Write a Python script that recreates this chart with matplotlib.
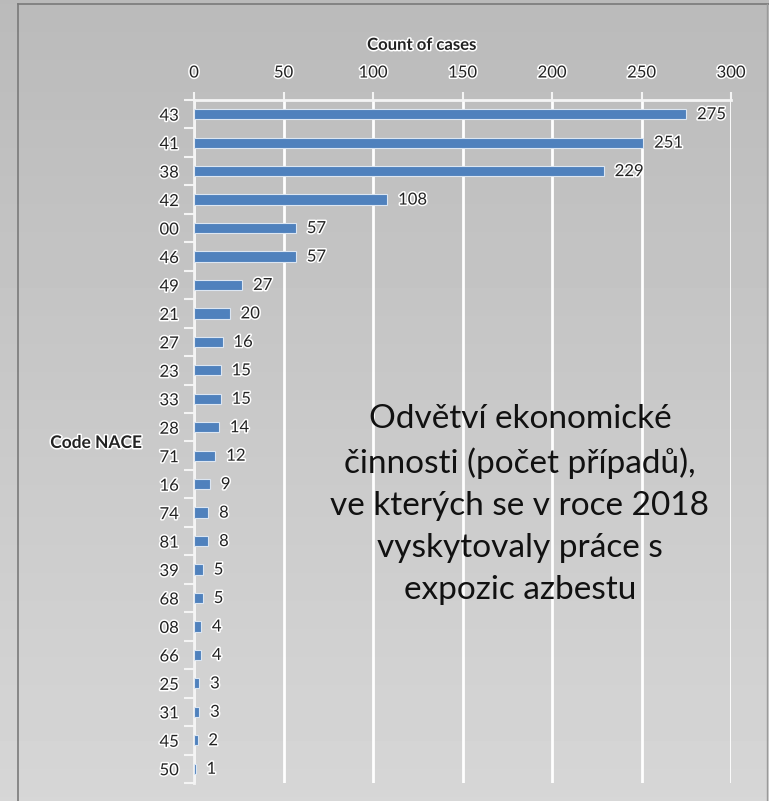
import matplotlib

matplotlib.use("Agg")
import matplotlib.pyplot as plt
import matplotlib.patheffects as pe
import numpy as np

codes = ["43", "41", "38", "42", "00", "46", "49", "21", "27", "23", "33", "28",
         "71", "16", "74", "81", "39", "68", "08", "66", "25", "31", "45", "50"]
counts = [275, 251, 229, 108, 57, 57, 27, 20, 16, 15, 15, 14,
          12, 9, 8, 8, 5, 5, 4, 4, 3, 3, 2, 1]
x_ticks = [0, 50, 100, 150, 200, 250, 300]
note = ("Odvětví ekonomické\nčinnosti (počet případů),\nve kterých se v roce 2018\n"
        "vyskytovaly práce s\nexpozic azbestu")

plt.rcParams["font.family"] = ["Lato", "DejaVu Sans"]
halo = [pe.withStroke(linewidth=2.2, foreground="white")]

fig = plt.figure(figsize=(7.69, 8.01), dpi=100)

# grey backdrop standing in for the photo texture
grad = np.linspace(0.73, 0.84, 200)[:, None] * np.ones((1, 10))
bg = fig.add_axes([0, 0, 1, 1], zorder=-10)
bg.imshow(grad, cmap="gray", vmin=0, vmax=1, aspect="auto", extent=[0, 1, 0, 1])
bg.plot([0.024, 0.024], [0, 0.995], color="#7a7a7a", lw=1.2)
bg.plot([0.024, 1], [0.995, 0.995], color="#7a7a7a", lw=1.2)
bg.plot([0.997, 0.997], [0, 0.995], color="#9a9a9a", lw=1.0)
bg.set_xlim(0, 1)
bg.set_ylim(0, 1)
bg.axis("off")

ax = fig.add_axes([0.2523, 0.0225, 0.6983, 0.8527])
ax.patch.set_alpha(0)
y = np.arange(len(codes))
ax.barh(y, counts, height=0.36, color="#4f81bd", edgecolor="#dce6f2", linewidth=0.8, zorder=3)
for yi, c in zip(y, counts):
    ax.text(c + 6, yi, str(c), va="center", ha="left", fontsize=12, color="#222222",
            path_effects=halo, zorder=4)

ax.set_xlim(0, 300)
ax.set_ylim(len(codes) - 0.5, -0.5)
ax.set_xticks(x_ticks)
ax.xaxis.tick_top()
ax.tick_params(axis="x", length=6, color="#f4f4f4", width=1.5, labelsize=12, pad=8)
ax.set_yticks(y)
ax.set_yticklabels(codes)
ax.set_yticks(np.arange(len(codes) + 1) - 0.5, minor=True)
ax.tick_params(axis="y", which="major", length=0, labelsize=12, pad=11)
ax.tick_params(axis="y", which="minor", length=7, color="#f4f4f4", width=1.5)
for lab in ax.get_xticklabels() + ax.get_yticklabels():
    lab.set_color("#222222")
    lab.set_path_effects(halo)

ax.grid(axis="x", color="white", linewidth=2, zorder=0)
for s in ["right", "bottom"]:
    ax.spines[s].set_visible(False)
ax.spines["top"].set_color("#f4f4f4")
ax.spines["top"].set_linewidth(2)
ax.spines["left"].set_color("#f4f4f4")
ax.spines["left"].set_linewidth(2)

fig.text(0.548, 0.944, "Count of cases", ha="center", va="center", fontsize=12,
         fontweight="bold", color="#222222", path_effects=halo)
fig.text(0.125, 0.447, "Code NACE", ha="center", va="center", fontsize=12.5,
         fontweight="bold", color="#222222", path_effects=halo)
fig.text(0.676, 0.370, note, ha="center", va="center", fontsize=24,
         color="#111111", linespacing=1.5)

fig.savefig("out.png", dpi=100)
